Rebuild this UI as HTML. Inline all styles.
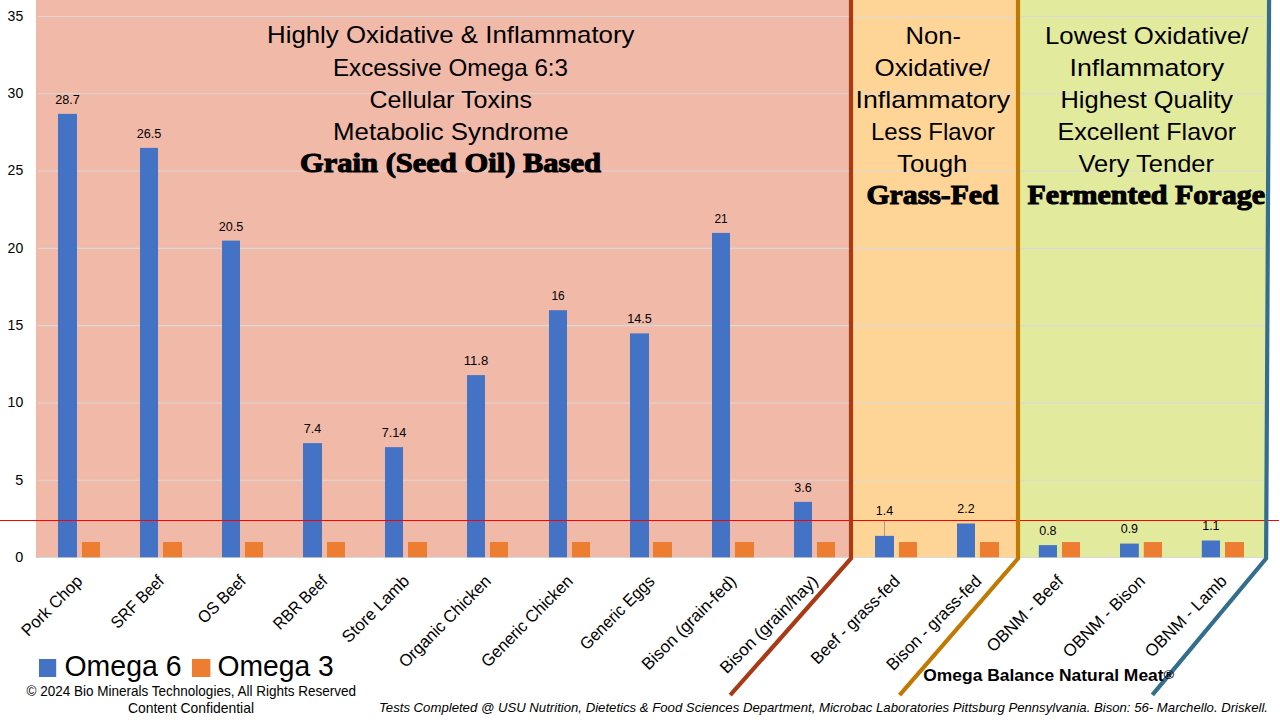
<!DOCTYPE html>
<html lang="en"><head><meta charset="utf-8"><title>Omega 6:3 Ratio Chart</title>
<style>
html,body{margin:0;padding:0;background:#fff;}
body{width:1280px;height:720px;overflow:hidden;position:relative;font-family:"Liberation Sans",sans-serif;}
svg{position:absolute;left:0;top:0;display:block;}
text{font-family:"Liberation Sans",sans-serif;fill:#000;}
.slab{font-family:"Liberation Serif",serif;font-weight:bold;stroke:#000;stroke-width:1.1px;stroke-linejoin:round;}
.b{font-weight:bold;}
.i{font-style:italic;}
</style></head><body>
<svg width="1280" height="720" viewBox="0 0 1280 720">
<rect x="36" y="0" width="815" height="558" fill="#F1B9A8"/>
<rect x="851" y="0" width="167" height="558" fill="#FFD597"/>
<polygon points="1018,0 1268.5,0 1265.5,558 1018,558" fill="#E2EA9E"/>
<line x1="38" x2="1264.5" y1="480.22" y2="480.22" stroke="#D9D9D9" stroke-width="1.1"/>
<line x1="38" x2="1264.5" y1="402.93" y2="402.93" stroke="#D9D9D9" stroke-width="1.1"/>
<line x1="38" x2="1264.5" y1="325.64" y2="325.64" stroke="#D9D9D9" stroke-width="1.1"/>
<line x1="38" x2="1264.5" y1="248.36" y2="248.36" stroke="#D9D9D9" stroke-width="1.1"/>
<line x1="38" x2="1264.5" y1="171.07" y2="171.07" stroke="#D9D9D9" stroke-width="1.1"/>
<line x1="38" x2="1264.5" y1="93.79" y2="93.79" stroke="#D9D9D9" stroke-width="1.1"/>
<line x1="38" x2="1264.5" y1="16.50" y2="16.50" stroke="#D9D9D9" stroke-width="1.1"/>
<line x1="38" x2="1264.5" y1="557.5" y2="557.5" stroke="#D9D9D9" stroke-width="1.1"/>
<rect x="58" y="113.88" width="19.0" height="443.42" fill="#4472C4"/>
<rect x="82" y="542.04" width="18.0" height="15.26" fill="#ED7D31"/>
<rect x="140" y="147.89" width="18.0" height="409.41" fill="#4472C4"/>
<rect x="163" y="542.04" width="19.0" height="15.26" fill="#ED7D31"/>
<rect x="222" y="240.63" width="18.0" height="316.67" fill="#4472C4"/>
<rect x="245" y="542.04" width="18.0" height="15.26" fill="#ED7D31"/>
<rect x="303" y="443.12" width="19.0" height="114.18" fill="#4472C4"/>
<rect x="327" y="542.04" width="18.0" height="15.26" fill="#ED7D31"/>
<rect x="385" y="447.14" width="18.0" height="110.16" fill="#4472C4"/>
<rect x="408" y="542.04" width="19.0" height="15.26" fill="#ED7D31"/>
<rect x="467" y="375.11" width="18.0" height="182.19" fill="#4472C4"/>
<rect x="490" y="542.04" width="18.0" height="15.26" fill="#ED7D31"/>
<rect x="549" y="310.19" width="18.0" height="247.11" fill="#4472C4"/>
<rect x="572" y="542.04" width="18.0" height="15.26" fill="#ED7D31"/>
<rect x="630" y="333.37" width="19.0" height="223.93" fill="#4472C4"/>
<rect x="653" y="542.04" width="19.0" height="15.26" fill="#ED7D31"/>
<rect x="712" y="232.90" width="18.0" height="324.40" fill="#4472C4"/>
<rect x="735" y="542.04" width="19.0" height="15.26" fill="#ED7D31"/>
<rect x="794" y="501.85" width="18.0" height="55.45" fill="#4472C4"/>
<rect x="817" y="542.04" width="18.0" height="15.26" fill="#ED7D31"/>
<rect x="875" y="535.86" width="19.0" height="21.44" fill="#4472C4"/>
<rect x="899" y="542.04" width="18.0" height="15.26" fill="#ED7D31"/>
<rect x="957" y="523.49" width="18.0" height="33.81" fill="#4472C4"/>
<rect x="980" y="542.04" width="19.0" height="15.26" fill="#ED7D31"/>
<rect x="1038.8" y="545.13" width="18.2" height="12.17" fill="#4472C4"/>
<rect x="1062" y="542.04" width="18.0" height="15.26" fill="#ED7D31"/>
<rect x="1120" y="543.59" width="18.8" height="13.71" fill="#4472C4"/>
<rect x="1143.8" y="542.04" width="18.2" height="15.26" fill="#ED7D31"/>
<rect x="1201.8" y="540.50" width="18.2" height="16.80" fill="#4472C4"/>
<rect x="1225" y="542.04" width="19.0" height="15.26" fill="#ED7D31"/>
<line x1="0" x2="1279" y1="520.5" y2="520.5" stroke="#FF0000" stroke-width="1.15"/>
<polyline points="851,0 851,558.5 730.2,695.2" fill="none" stroke="#A83A16" stroke-width="4.2"/>
<polyline points="1018,0 1018,558.5 899.6,695.2" fill="none" stroke="#C07A04" stroke-width="4.2"/>
<polyline points="1269.1,-2 1266.1,558.5 1152.4,694.9" fill="none" stroke="#336E8E" stroke-width="4.2"/>
<line x1="884.5" x2="884.5" y1="521" y2="536" stroke="#8C8C8C" stroke-width="0.8"/>
<text x="15.2" y="561.8" font-size="14.2" textLength="8.0" lengthAdjust="spacingAndGlyphs">0</text>
<text x="15.2" y="484.5" font-size="14.2" textLength="8.0" lengthAdjust="spacingAndGlyphs">5</text>
<text x="7.6" y="407.2" font-size="14.2" textLength="15.6" lengthAdjust="spacingAndGlyphs">10</text>
<text x="7.6" y="329.9" font-size="14.2" textLength="15.6" lengthAdjust="spacingAndGlyphs">15</text>
<text x="7.6" y="252.7" font-size="14.2" textLength="15.6" lengthAdjust="spacingAndGlyphs">20</text>
<text x="7.6" y="175.4" font-size="14.2" textLength="15.6" lengthAdjust="spacingAndGlyphs">25</text>
<text x="7.6" y="98.1" font-size="14.2" textLength="15.6" lengthAdjust="spacingAndGlyphs">30</text>
<text x="7.6" y="20.8" font-size="14.2" textLength="15.6" lengthAdjust="spacingAndGlyphs">35</text>
<text x="55.2" y="103.9" font-size="12.3" textLength="24.6" lengthAdjust="spacingAndGlyphs">28.7</text>
<text x="136.7" y="137.9" font-size="12.3" textLength="24.6" lengthAdjust="spacingAndGlyphs">26.5</text>
<text x="218.7" y="230.6" font-size="12.3" textLength="24.6" lengthAdjust="spacingAndGlyphs">20.5</text>
<text x="303.8" y="433.1" font-size="12.3" textLength="17.4" lengthAdjust="spacingAndGlyphs">7.4</text>
<text x="381.7" y="437.1" font-size="12.3" textLength="24.6" lengthAdjust="spacingAndGlyphs">7.14</text>
<text x="463.7" y="365.1" font-size="12.3" textLength="24.6" lengthAdjust="spacingAndGlyphs">11.8</text>
<text x="551.4" y="300.2" font-size="12.3" textLength="13.2" lengthAdjust="spacingAndGlyphs">16</text>
<text x="627.2" y="323.4" font-size="12.3" textLength="24.6" lengthAdjust="spacingAndGlyphs">14.5</text>
<text x="714.4" y="222.9" font-size="12.3" textLength="13.2" lengthAdjust="spacingAndGlyphs">21</text>
<text x="794.3" y="491.9" font-size="12.3" textLength="17.4" lengthAdjust="spacingAndGlyphs">3.6</text>
<text x="875.8" y="515.0" font-size="12.3" textLength="17.4" lengthAdjust="spacingAndGlyphs">1.4</text>
<text x="957.3" y="512.9" font-size="12.3" textLength="17.4" lengthAdjust="spacingAndGlyphs">2.2</text>
<text x="1039.2" y="534.8" font-size="12.3" textLength="17.4" lengthAdjust="spacingAndGlyphs">0.8</text>
<text x="1120.7" y="533.1" font-size="12.3" textLength="17.4" lengthAdjust="spacingAndGlyphs">0.9</text>
<text x="1202.2" y="529.7" font-size="12.3" textLength="17.4" lengthAdjust="spacingAndGlyphs">1.1</text>
<text x="267.0" y="43.4" font-size="24.0" textLength="367.5" lengthAdjust="spacingAndGlyphs">Highly Oxidative &amp; Inflammatory</text>
<text x="333.0" y="75.6" font-size="24.0" textLength="235.0" lengthAdjust="spacingAndGlyphs">Excessive Omega 6:3</text>
<text x="369.5" y="107.8" font-size="24.0" textLength="162.5" lengthAdjust="spacingAndGlyphs">Cellular Toxins</text>
<text x="333.0" y="139.8" font-size="24.0" textLength="235.5" lengthAdjust="spacingAndGlyphs">Metabolic Syndrome</text>
<text x="300.0" y="172.3" font-size="27.6" textLength="301.0" lengthAdjust="spacingAndGlyphs" class="slab">Grain (Seed Oil) Based</text>
<text x="905.5" y="43.6" font-size="24.0" textLength="55.5" lengthAdjust="spacingAndGlyphs">Non-</text>
<text x="874.5" y="75.7" font-size="24.0" textLength="115.5" lengthAdjust="spacingAndGlyphs">Oxidative/</text>
<text x="855.5" y="107.8" font-size="24.0" textLength="154.5" lengthAdjust="spacingAndGlyphs">Inflammatory</text>
<text x="871.0" y="139.9" font-size="24.0" textLength="124.0" lengthAdjust="spacingAndGlyphs">Less Flavor</text>
<text x="897.0" y="172.0" font-size="24.0" textLength="70.5" lengthAdjust="spacingAndGlyphs">Tough</text>
<text x="866.5" y="204.4" font-size="27.6" textLength="132.0" lengthAdjust="spacingAndGlyphs" class="slab">Grass-Fed</text>
<text x="1045.0" y="43.6" font-size="24.0" textLength="203.5" lengthAdjust="spacingAndGlyphs">Lowest Oxidative/</text>
<text x="1069.5" y="75.7" font-size="24.0" textLength="154.5" lengthAdjust="spacingAndGlyphs">Inflammatory</text>
<text x="1060.5" y="107.8" font-size="24.0" textLength="172.5" lengthAdjust="spacingAndGlyphs">Highest Quality</text>
<text x="1057.5" y="139.9" font-size="24.0" textLength="178.5" lengthAdjust="spacingAndGlyphs">Excellent Flavor</text>
<text x="1078.5" y="172.0" font-size="24.0" textLength="135.5" lengthAdjust="spacingAndGlyphs">Very Tender</text>
<text x="1027.5" y="204.4" font-size="27.6" textLength="237.5" lengthAdjust="spacingAndGlyphs" class="slab">Fermented Forage</text>
<text x="5.5" y="582.2" font-size="17.0" textLength="77.9" lengthAdjust="spacingAndGlyphs" transform="rotate(-45 83.4 582.2)">Pork Chop</text>
<text x="98.3" y="582.2" font-size="17.0" textLength="66.8" lengthAdjust="spacingAndGlyphs" transform="rotate(-45 165.1 582.2)">SRF Beef</text>
<text x="187.0" y="582.2" font-size="17.0" textLength="59.9" lengthAdjust="spacingAndGlyphs" transform="rotate(-45 246.9 582.2)">OS Beef</text>
<text x="259.9" y="582.2" font-size="17.0" textLength="68.7" lengthAdjust="spacingAndGlyphs" transform="rotate(-45 328.6 582.2)">RBR Beef</text>
<text x="323.3" y="582.2" font-size="17.0" textLength="87.1" lengthAdjust="spacingAndGlyphs" transform="rotate(-45 410.4 582.2)">Store Lamb</text>
<text x="369.9" y="582.2" font-size="17.0" textLength="122.2" lengthAdjust="spacingAndGlyphs" transform="rotate(-45 492.1 582.2)">Organic Chicken</text>
<text x="452.3" y="582.2" font-size="17.0" textLength="121.6" lengthAdjust="spacingAndGlyphs" transform="rotate(-45 573.9 582.2)">Generic Chicken</text>
<text x="558.2" y="582.2" font-size="17.0" textLength="97.4" lengthAdjust="spacingAndGlyphs" transform="rotate(-45 655.6 582.2)">Generic Eggs</text>
<text x="611.7" y="582.2" font-size="17.0" textLength="125.7" lengthAdjust="spacingAndGlyphs" transform="rotate(-45 737.4 582.2)">Bison (grain-fed)</text>
<text x="688.5" y="582.2" font-size="17.0" textLength="130.6" lengthAdjust="spacingAndGlyphs" transform="rotate(-45 819.1 582.2)">Bison (grain/hay)</text>
<text x="783.4" y="582.2" font-size="17.0" textLength="117.5" lengthAdjust="spacingAndGlyphs" transform="rotate(-45 900.9 582.2)">Beef - grass-fed</text>
<text x="856.4" y="582.2" font-size="17.0" textLength="126.2" lengthAdjust="spacingAndGlyphs" transform="rotate(-45 982.6 582.2)">Bison - grass-fed</text>
<text x="964.1" y="582.2" font-size="17.0" textLength="100.3" lengthAdjust="spacingAndGlyphs" transform="rotate(-45 1064.4 582.2)">OBNM - Beef</text>
<text x="1038.3" y="582.2" font-size="17.0" textLength="107.8" lengthAdjust="spacingAndGlyphs" transform="rotate(-45 1146.1 582.2)">OBNM - Bison</text>
<text x="1120.4" y="582.2" font-size="17.0" textLength="107.5" lengthAdjust="spacingAndGlyphs" transform="rotate(-45 1227.9 582.2)">OBNM - Lamb</text>
<rect x="39" y="659" width="17.2" height="18" fill="#4472C4"/>
<rect x="192" y="659" width="18.4" height="18" fill="#ED7D31"/>
<text x="64.5" y="676.0" font-size="29" textLength="117.0" lengthAdjust="spacingAndGlyphs">Omega 6</text>
<text x="217.5" y="676.0" font-size="29" textLength="116.3" lengthAdjust="spacingAndGlyphs">Omega 3</text>
<text x="26.5" y="696.0" font-size="13.9" textLength="329.5" lengthAdjust="spacingAndGlyphs">© 2024 Bio Minerals Technologies, All Rights Reserved</text>
<text x="128.0" y="712.8" font-size="13.9" textLength="126.0" lengthAdjust="spacingAndGlyphs">Content Confidential</text>
<text x="923.3" y="681.4" font-size="15.6" textLength="240.3" lengthAdjust="spacingAndGlyphs" class="b">Omega Balance Natural Meat</text>
<text x="1163.6" y="678.8" font-size="13.4" textLength="10.6" lengthAdjust="spacingAndGlyphs" class="b">®</text>
<text x="379.0" y="711.8" font-size="13.6" textLength="889.0" lengthAdjust="spacingAndGlyphs" class="i">Tests Completed @ USU Nutrition, Dietetics &amp; Food Sciences Department, Microbac Laboratories Pittsburg Pennsylvania. Bison: 56- Marchello. Driskell.</text>
</svg>
</body></html>
